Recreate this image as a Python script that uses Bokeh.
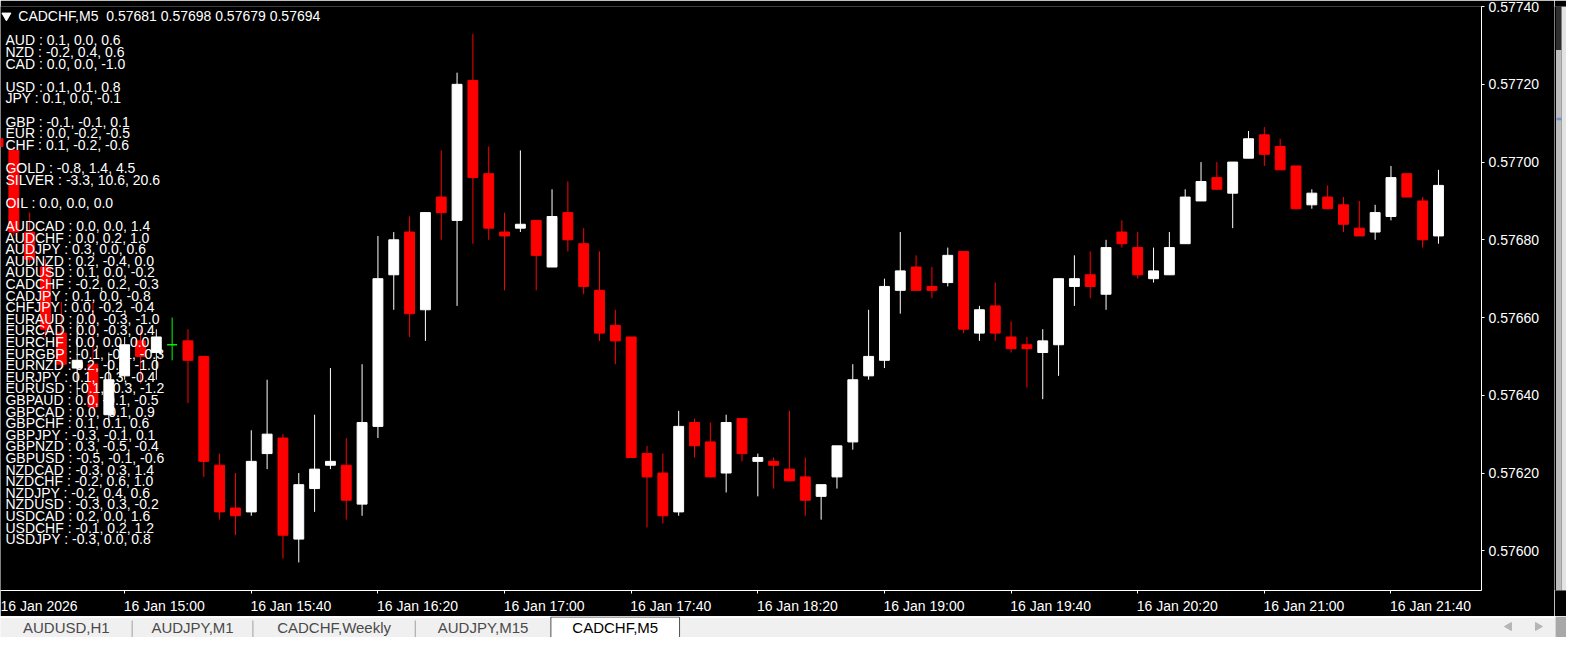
from bokeh.plotting import figure
from bokeh.models import Range1d, FixedTicker, PrintfTickFormatter, Label
from bokeh.layouts import column, row
from bokeh.embed import file_html
from bokeh.resources import INLINE
from bokeh.core.properties import value

# ---------------- data ----------------
symbol = "CADCHF"
timeframe = "M5"

opens = [0.57706, 0.57703, 0.57682, 0.57673, 0.57656, 0.57647, 0.57648, 0.57635, 0.57645, 0.57654,
         0.57651, 0.57653, 0.57654, 0.57650, 0.57622, 0.57611, 0.57610, 0.57625, 0.57629, 0.57603,
         0.57616, 0.57622, 0.57622, 0.57612, 0.57632, 0.57671, 0.57682, 0.57662, 0.57691, 0.57685,
         0.57721, 0.57697, 0.57682, 0.57683, 0.57685, 0.57673, 0.57687, 0.57679, 0.57667, 0.57658,
         0.57655, 0.57625, 0.57620, 0.57610, 0.57633, 0.57628, 0.57620, 0.57634, 0.57623, 0.57623,
         0.57621, 0.57619, 0.57614, 0.57619, 0.57628, 0.57645, 0.57649, 0.57667, 0.57673, 0.57668,
         0.57669, 0.57677, 0.57656, 0.57663, 0.57655, 0.57653, 0.57651, 0.57653, 0.57668, 0.57671,
         0.57666, 0.57682, 0.57678, 0.57670, 0.57671, 0.57679, 0.57690, 0.57696, 0.57692, 0.57701,
         0.57707, 0.57704, 0.57699, 0.57689, 0.57691, 0.57689, 0.57683, 0.57682, 0.57686, 0.57697,
         0.57690, 0.57681]
highs = [0.57707, 0.57704, 0.57687, 0.57675, 0.57664, 0.57659, 0.57664, 0.57651, 0.57655, 0.57657,
         0.57657, 0.57660, 0.57657, 0.57650, 0.57625, 0.57620, 0.57631, 0.57644, 0.57630, 0.57620,
         0.57635, 0.57647, 0.57629, 0.57648, 0.57681, 0.57682, 0.57686, 0.57687, 0.57703, 0.57723,
         0.57733, 0.57704, 0.57687, 0.57703, 0.57685, 0.57693, 0.57695, 0.57683, 0.57677, 0.57662,
         0.57655, 0.57627, 0.57625, 0.57636, 0.57634, 0.57633, 0.57635, 0.57634, 0.57625, 0.57624,
         0.57636, 0.57624, 0.57617, 0.57627, 0.57648, 0.57662, 0.57670, 0.57682, 0.57676, 0.57673,
         0.57678, 0.57677, 0.57663, 0.57669, 0.57659, 0.57655, 0.57657, 0.57670, 0.57676, 0.57677,
         0.57680, 0.57685, 0.57682, 0.57678, 0.57682, 0.57693, 0.57700, 0.57700, 0.57700, 0.57708,
         0.57709, 0.57706, 0.57699, 0.57693, 0.57694, 0.57691, 0.57690, 0.57689, 0.57699, 0.57697,
         0.57691, 0.57698]
lows = [0.57703, 0.57681, 0.57674, 0.57655, 0.57647, 0.57640, 0.57636, 0.57633, 0.57644, 0.57643,
        0.57644, 0.57649, 0.57638, 0.57619, 0.57608, 0.57604, 0.57609, 0.57621, 0.57598, 0.57597,
        0.57610, 0.57621, 0.57608, 0.57609, 0.57629, 0.57662, 0.57655, 0.57654, 0.57680, 0.57663,
        0.57679, 0.57680, 0.57667, 0.57682, 0.57667, 0.57673, 0.57677, 0.57666, 0.57654, 0.57648,
        0.57624, 0.57606, 0.57607, 0.57609, 0.57624, 0.57619, 0.57615, 0.57623, 0.57614, 0.57616,
        0.57618, 0.57609, 0.57608, 0.57616, 0.57626, 0.57644, 0.57647, 0.57661, 0.57667, 0.57665,
        0.57668, 0.57656, 0.57654, 0.57654, 0.57651, 0.57642, 0.57639, 0.57645, 0.57663, 0.57665,
        0.57662, 0.57678, 0.57670, 0.57669, 0.57671, 0.57679, 0.57690, 0.57693, 0.57683, 0.57701,
        0.57699, 0.57698, 0.57688, 0.57688, 0.57688, 0.57682, 0.57681, 0.57680, 0.57685, 0.57691,
        0.57678, 0.57679]
closes = [0.57704, 0.57682, 0.57675, 0.57657, 0.57648, 0.57649, 0.57637, 0.57644, 0.57653, 0.57650,
          0.57655, 0.57653, 0.57649, 0.57623, 0.57610, 0.57609, 0.57623, 0.57630, 0.57604, 0.57617,
          0.57621, 0.57623, 0.57613, 0.57633, 0.57670, 0.57680, 0.57661, 0.57687, 0.57687, 0.57720,
          0.57696, 0.57683, 0.57681, 0.57684, 0.57676, 0.57686, 0.57680, 0.57668, 0.57656, 0.57654,
          0.57624, 0.57619, 0.57609, 0.57632, 0.57627, 0.57619, 0.57633, 0.57625, 0.57624, 0.57622,
          0.57618, 0.57613, 0.57617, 0.57627, 0.57644, 0.57650, 0.57668, 0.57672, 0.57667, 0.57667,
          0.57676, 0.57657, 0.57662, 0.57656, 0.57652, 0.57652, 0.57654, 0.57670, 0.57670, 0.57668,
          0.57678, 0.57679, 0.57671, 0.57672, 0.57678, 0.57691, 0.57695, 0.57693, 0.57700, 0.57706,
          0.57702, 0.57698, 0.57688, 0.57692, 0.57688, 0.57684, 0.57681, 0.57687, 0.57696, 0.57691,
          0.57680, 0.57694]

time_tick_bars = [0, 8, 16, 24, 32, 40, 48, 56, 64, 72, 80, 88]
time_tick_labels = ["16 Jan 2026", "16 Jan 15:00", "16 Jan 15:40", "16 Jan 16:20", "16 Jan 17:00",
                    "16 Jan 17:40", "16 Jan 18:20", "16 Jan 19:00", "16 Jan 19:40", "16 Jan 20:20",
                    "16 Jan 21:00", "16 Jan 21:40"]
price_ticks = [0.57600, 0.57620, 0.57640, 0.57660, 0.57680, 0.57700, 0.57720, 0.57740]

strength_names = ["AUD", "NZD", "CAD", "USD", "JPY", "GBP", "EUR", "CHF", "GOLD", "SILVER", "OIL",
                  "AUDCAD", "AUDCHF", "AUDJPY", "AUDNZD", "AUDUSD", "CADCHF", "CADJPY", "CHFJPY",
                  "EURAUD", "EURCAD", "EURCHF", "EURGBP", "EURNZD", "EURJPY", "EURUSD", "GBPAUD",
                  "GBPCAD", "GBPCHF", "GBPJPY", "GBPNZD", "GBPUSD", "NZDCAD", "NZDCHF", "NZDJPY",
                  "NZDUSD", "USDCAD", "USDCHF", "USDJPY"]
strength_a = [0.1, -0.2, 0.0, 0.1, 0.1, -0.1, 0.0, 0.1, -0.8, -3.3, 0.0,
              0.0, 0.0, 0.3, 0.2, 0.1, -0.2, 0.1, 0.0,
              0.0, 0.0, 0.0, -0.1, 0.2, 0.1, -0.1, 0.0,
              0.0, 0.1, -0.3, 0.3, -0.5, -0.3, -0.2, -0.2,
              -0.3, 0.2, -0.1, -0.3]
strength_b = [0.0, 0.4, 0.0, 0.1, 0.0, -0.1, -0.2, -0.2, 1.4, 10.6, 0.0,
              0.0, 0.2, 0.0, -0.4, 0.0, 0.2, 0.0, -0.2,
              -0.3, -0.3, 0.0, -0.1, -0.6, -0.3, -0.3, -0.1,
              -0.1, 0.1, -0.1, -0.5, -0.1, 0.3, 0.6, 0.4,
              0.3, 0.0, 0.2, 0.0]
strength_c = [0.6, 0.6, -1.0, 0.8, -0.1, 0.1, -0.5, -0.6, 4.5, 20.6, 0.0,
              1.4, 1.0, 0.6, 0.0, -0.2, -0.3, -0.8, -0.4,
              -1.0, 0.4, 0.0, -0.3, -1.0, -0.4, -1.2, -0.5,
              0.9, 0.6, 0.1, -0.4, -0.6, 1.4, 1.0, 0.6,
              -0.2, 1.6, 1.2, 0.8]
group_breaks_after = ["CAD", "JPY", "CHF", "SILVER", "OIL"]

tab_names = ["AUDUSD,H1", "AUDJPY,M1", "CADCHF,Weekly", "AUDJPY,M15", "CADCHF,M5"]
active_tab = "CADCHF,M5"

# ---------------- geometry helpers (reference pixel -> data) ----------------
BAR_PX = 16.0
BAR0_PX = -2.5
PIP_PX = 4.02
REF_PRICE = 0.57680
REF_PRICE_PX = 241.3


def xd(px):
    return (px - BAR0_PX) / BAR_PX


def yd(py):
    return REF_PRICE + (REF_PRICE_PX - py) / PIP_PX * 1e-5


FONT = "Liberation Sans"
MAIN_W, MAIN_H = 1554, 616
SCROLL_W = 12
TAB_H = 21
TOP_B, BOT_B = 6, 26

p = figure(width=MAIN_W, height=MAIN_H, output_backend="svg", toolbar_location=None,
           x_range=Range1d(xd(0), xd(1497)), y_range=Range1d(yd(604), yd(0)),
           y_axis_location="right", min_border_left=0, min_border_top=TOP_B,
           min_border_right=MAIN_W - 1481, min_border_bottom=BOT_B)
p.background_fill_color = "black"
p.border_fill_color = "black"
p.outline_line_color = None
p.grid.visible = False

# right price axis
ya = p.yaxis[0]
ya.ticker = FixedTicker(ticks=price_ticks)
ya.formatter = PrintfTickFormatter(format="%.5f")
ya.axis_line_color = "white"
ya.major_tick_line_color = "white"
ya.minor_tick_line_color = None
ya.major_tick_out = 3
ya.major_tick_in = 0
ya.major_label_standoff = 4
ya.major_label_text_color = "white"
ya.major_label_text_font = FONT
ya.major_label_text_font_size = "14px"

# bottom time axis: tick marks at the bars (minor ticks), labels left-aligned on them (MT4 style)
LABEL_SHIFT = 2.5
lab_ticks = [b + LABEL_SHIFT for b in time_tick_bars]
xa = p.xaxis[0]
xa.ticker = FixedTicker(ticks=lab_ticks, minor_ticks=time_tick_bars)
xa.major_label_overrides = {t: s for t, s in zip(lab_ticks, time_tick_labels)}
xa.axis_line_color = "white"
xa.major_tick_line_color = None
xa.major_tick_out = 3
xa.major_tick_in = 0
xa.minor_tick_line_color = "white"
xa.minor_tick_out = 3
xa.minor_tick_in = 0
xa.major_label_standoff = 4
xa.major_label_text_color = "white"
xa.major_label_text_font = FONT
xa.major_label_text_font_size = "14px"

# candles
idx = list(range(len(opens)))
colors = []
for o, c in zip(opens, closes):
    if c > o:
        colors.append("white")
    elif c < o:
        colors.append("#ff0000")
    else:
        colors.append("#00ff00")
tops = [max(o, c) for o, c in zip(opens, closes)]
bottoms = [min(o, c) for o, c in zip(opens, closes)]
p.segment(x0=idx, y0=lows, x1=idx, y1=highs, line_color=colors, line_width=1)
p.vbar(x=idx, width=0.625, top=tops, bottom=bottoms, fill_color=colors, line_color=colors, line_width=1)

# title line
title_txt = f"{symbol},{timeframe}\u00a0\u00a0{opens[-1]:.5f} {highs[-1]:.5f} {lows[-1]:.5f} {closes[-1]:.5f}"
p.scatter(x=[xd(6)], y=[yd(9.5)], marker="inverted_triangle", size=9, color="white")
p.text(x=[xd(18)], y=[yd(10)], text=[title_txt], text_color="white", text_font=value(FONT),
       text_font_size="14px", text_baseline="middle", text_align="left")

# strength list
lines, line_y = [], []
k = 0
for name, a, b, c in zip(strength_names, strength_a, strength_b, strength_c):
    lines.append(f"{name} : {a:.1f}, {b:.1f}, {c:.1f}")
    line_y.append(yd(35 + 12 * k))
    k += 1
    if name in group_breaks_after:
        k += 1
p.text(x=[xd(5)] * len(lines), y=line_y, text=lines, text_color="white", text_font=value(FONT),
       text_font_size="14px", text_baseline="middle", text_align="left")

# current price marker on the axis
price_lbl = Label(x=xd(1503), y=closes[-1], text=f"{closes[-1]:.5f}", text_color="black",
                  text_font=FONT, text_font_size="14px", text_baseline="middle", text_align="left",
                  background_fill_color="white", padding=3)
p.add_layout(price_lbl)

# ---------------- right scroll strip ----------------
s = figure(width=SCROLL_W, height=MAIN_H, output_backend="svg", toolbar_location=None,
           x_range=Range1d(1570, 1582), y_range=Range1d(632, 0),
           x_axis_type=None, y_axis_type=None, min_border=0)
s.background_fill_color = "#000000"
s.border_fill_color = "#000000"
s.outline_line_color = None
s.grid.visible = False
s.quad(left=[1571.5, 1571.5, 1577], right=[1577, 1577, 1582], top=[0, 47, 0], bottom=[47, 632, 632],
       fill_color=["#2e2e2e", "#bdbdbd", "#e3e3e3"], line_color=None)
s.quad(left=[1572], right=[1577], top=[120.5], bottom=[123], fill_color="#6f8fd6", line_color=None)

# ---------------- tab bar ----------------
t = figure(width=MAIN_W + SCROLL_W, height=TAB_H, output_backend="svg", toolbar_location=None,
           x_range=Range1d(0, 1582), y_range=Range1d(653, 632),
           x_axis_type=None, y_axis_type=None, min_border=0)
t.background_fill_color = "#f0f0f0"
t.border_fill_color = "#f0f0f0"
t.outline_line_color = None
t.grid.visible = False
edges = [0, 133, 255, 419, 556, 686]
t.quad(left=[0], right=[1571], top=[632], bottom=[633.5], fill_color="white", line_color=None)
ai = tab_names.index(active_tab)
t.quad(left=[edges[ai]], right=[edges[ai + 1]], top=[632.5], bottom=[660], fill_color="white",
       line_color="#505050", line_width=1)
seps = [e for e in edges[1:-1] if e not in (edges[ai], edges[ai + 1])]
t.segment(x0=seps, y0=[636] * len(seps), x1=seps, y1=[653] * len(seps), line_color="#a0a0a0")
centers = [(edges[i] + edges[i + 1]) / 2 for i in range(len(tab_names))]
tcols = ["black" if n == active_tab else "#4a4a4a" for n in tab_names]
t.text(x=centers, y=[642.5] * len(tab_names), text=tab_names, text_color=tcols, text_font=value(FONT),
       text_font_size="15px", text_baseline="middle", text_align="center")
t.quad(left=[1571], right=[1582], top=[632], bottom=[653], fill_color="#a8a8a8", line_color=None)
t.scatter(x=[1524, 1553], y=[642, 642], marker="triangle", size=8, angle=[1.5708, -1.5708],
          color="#b5b5b5")

layout = column(row(p, s, spacing=0), t, spacing=0)
open("out.html", "w").write(file_html(layout, INLINE))
